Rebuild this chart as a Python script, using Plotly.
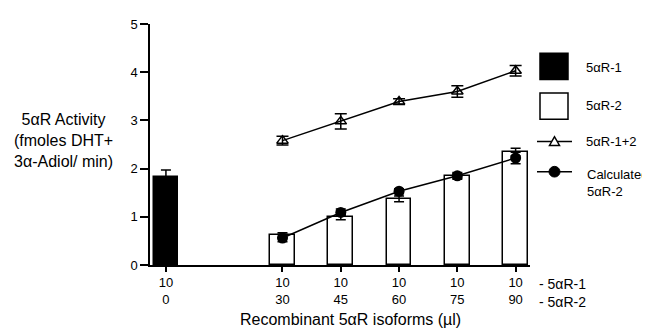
import plotly.graph_objects as go

# Data
r2_vol = [0, 30, 45, 60, 75, 90]          # µl 5aR-2 (x positions on a linear axis)
r1_vol = ["10", "10", "10", "10", "10", "10"]
r1_only_x = [0]
r1_only_val = [1.82]
r1_only_err = [0.15]
r2_x = [30, 45, 60, 75, 90]
r2_val = [0.62, 0.99, 1.37, 1.85, 2.34]
r2_err = [0.05, 0.05, 0.06, 0.05, 0.08]
combo_val = [2.58, 2.98, 3.39, 3.60, 4.03]
combo_err = [0.09, 0.16, 0.06, 0.12, 0.11]
calc_val = [0.56, 1.09, 1.53, 1.85, 2.22]
calc_err = [0.08, 0.07, 0.05, 0.07, 0.12]
y_ticks = [0, 1, 2, 3, 4, 5]

FONT = "Arial, Liberation Sans, sans-serif"
BW = 6.4
OFF = 8  # page body margin offset

W, H = 650 - OFF, 330 - OFF
L, R, T, B = 150, 530, 17, 265  # plot area in screenshot pixels

fig = go.Figure()
fig.add_trace(go.Bar(x=r1_only_x, y=r1_only_val, width=BW, marker=dict(color="black", line=dict(color="black", width=1.5)),
                     error_y=dict(type="data", array=r1_only_err, arrayminus=[0], color="black", thickness=1.5, width=5),
                     showlegend=False))
fig.add_trace(go.Bar(x=r2_x, y=r2_val, width=BW, marker=dict(color="white", line=dict(color="black", width=1.5)),
                     error_y=dict(type="data", array=r2_err, color="black", thickness=1.5, width=5),
                     showlegend=False))
fig.add_trace(go.Scatter(x=r2_x, y=combo_val, mode="lines+markers",
                         line=dict(color="black", width=1.5),
                         marker=dict(symbol="triangle-up-open", size=10, color="black", line=dict(width=1.5)),
                         error_y=dict(type="data", array=combo_err, color="black", thickness=1.5, width=6),
                         showlegend=False))
fig.add_trace(go.Scatter(x=r2_x, y=calc_val, mode="lines+markers",
                         line=dict(color="black", width=1.5),
                         marker=dict(symbol="circle", size=11, color="black"),
                         error_y=dict(type="data", array=calc_err, color="black", thickness=1.5, width=5),
                         showlegend=False))

tick_text = [f"{a}<br>{b}" for a, b in zip(r1_vol, r2_vol)]

fig.update_layout(
    width=W, height=H,
    margin=dict(l=L - OFF, r=W - (R - OFF), t=T - OFF, b=H - (B - OFF)),
    plot_bgcolor="white", paper_bgcolor="white",
    font=dict(family=FONT, size=13, color="black"),
    bargap=0,
    xaxis=dict(range=[-4.1, 93.7], tickvals=r2_vol, ticktext=tick_text, showgrid=False, zeroline=False,
               showline=True, linecolor="black", linewidth=1.5, ticks="outside", ticklen=5, tickwidth=1.5,
               tickcolor="black", tickfont=dict(size=13)),
    yaxis=dict(range=[0, 5], tickvals=y_ticks, showgrid=False, zeroline=False,
               showline=True, linecolor="black", linewidth=1.5, ticks="outside", ticklen=8, tickwidth=1.5,
               tickcolor="black", tickfont=dict(size=13)),
)

def px(xp):
    return (xp - L) / float(R - L)

def py(yp):
    return (B - yp) / float(B - T)

def txt(text, x, y, size=14, xanchor="center", align="center"):
    return dict(text=text, x=px(x), y=py(y), xref="paper", yref="paper", xanchor=xanchor, yanchor="middle",
                showarrow=False, font=dict(size=size), align=align)

ann = [
    txt("5αR Activity<br>(fmoles DHT+<br>3α-Adiol/ min)", 63, 137, size=16),
    txt("Recombinant 5αR isoforms (µl)", 350, 321, size=16),
    txt("- 5αR-1", 537, 285, size=14, xanchor="left"),
    txt("- 5αR-2", 537, 303, size=14, xanchor="left"),
    txt("5αR-1", 584, 62, size=13, xanchor="left"),
    txt("5αR-2", 584, 101, size=13, xanchor="left"),
    txt("5αR-1+2", 584, 138, size=13, xanchor="left"),
    txt("Calculated<br>5αR-2", 585, 180.5, size=13, xanchor="left", align="left"),
]

shapes = []
shapes.append(dict(type="rect", xref="paper", yref="paper", x0=px(540), x1=px(568), y0=py(74), y1=py(47),
                   fillcolor="black", line=dict(color="black", width=1.5)))
shapes.append(dict(type="rect", xref="paper", yref="paper", x0=px(540), x1=px(568), y0=py(115), y1=py(88),
                   fillcolor="white", line=dict(color="black", width=1.5)))
shapes.append(dict(type="line", xref="paper", yref="paper", x0=px(537), x1=px(572), y0=py(138), y1=py(138),
                   line=dict(color="black", width=1.5)))
tx, ty = 554.5, 138
shapes.append(dict(type="path", xref="paper", yref="paper",
                   path=f"M {px(tx-5)} {py(ty+4)} L {px(tx+5)} {py(ty+4)} L {px(tx)} {py(ty-5)} Z",
                   fillcolor="white", line=dict(color="black", width=1.5)))
shapes.append(dict(type="line", xref="paper", yref="paper", x0=px(537), x1=px(572), y0=py(169), y1=py(169),
                   line=dict(color="black", width=1.5)))
shapes.append(dict(type="circle", xref="paper", yref="paper", x0=px(549), x1=px(560), y0=py(174.5), y1=py(163.5),
                   fillcolor="black", line=dict(color="black", width=1)))

fig.update_layout(annotations=ann, shapes=shapes)
fig.write_html("out.html")
